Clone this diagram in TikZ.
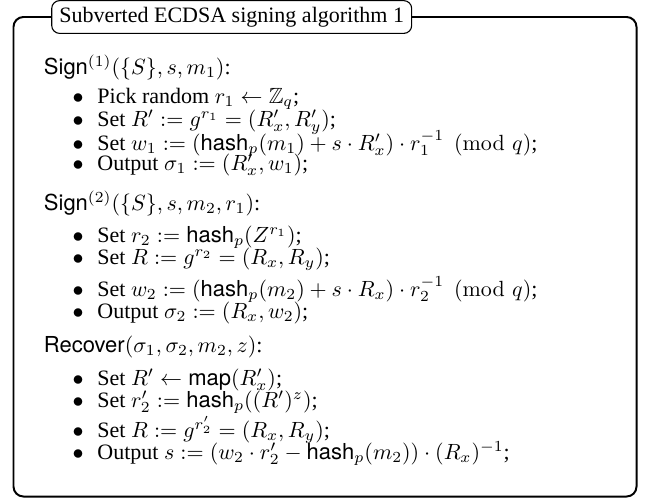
\documentclass[tikz,border=0pt]{standalone}
\usepackage{amsmath,amssymb}
\usepackage[no-math]{fontspec}
\setmainfont{Liberation Serif}
\setsansfont{TeX Gyre Heros}
\begin{document}
\begin{tikzpicture}[x=0.4545pt,y=-0.4545pt,
  frame/.style={draw=black,line width=0.9pt,rounded corners=4.5pt},
  titlebox/.style={draw=black,fill=white,line width=0.5pt,rounded corners=3.6pt,
    minimum width=163.6pt,minimum height=14.9pt,inner sep=0pt},
  line/.style={anchor=base west,inner sep=0pt},
  bul/.style={anchor=base,inner sep=0pt}]
\useasboundingbox (0,0) rectangle (647,499);
\draw[frame] (13.5,17) rectangle (636.5,496.5);
\node[titlebox] (title) at (231.7,17) {Subverted ECDSA signing algorithm 1};
% Sign 1
\node[line] (h1) at (43.5,74) {\textsf{Sign}$^{(1)}(\{S\}, s, m_1)$:};
\node[bul] (b11) at (78,103) {$\bullet$};
\node[line] (l11) at (97,103) {Pick random $r_1 \leftarrow \mathbb{Z}_q$;};
\node[bul] (b12) at (78,126) {$\bullet$};
\node[line] (l12) at (97,126) {Set $R' := g^{r_1} = (R'_x, R'_y)$;};
\node[bul] (b13) at (78,150) {$\bullet$};
\node[line] (l13) at (97,150) {Set $w_1 := (\textsf{hash}_p(m_1) + s\cdot R'_x)\cdot r_1^{-1} \pmod q$;};
\node[bul] (b14) at (78,170) {$\bullet$};
\node[line] (l14) at (97,170) {Output $\sigma_1 := (R'_x, w_1)$;};
% Sign 2
\node[line] (h2) at (43.5,210) {\textsf{Sign}$^{(2)}(\{S\}, s, m_2, r_1)$:};
\node[bul] (b21) at (78,242) {$\bullet$};
\node[line] (l21) at (97,242) {Set $r_2 := \textsf{hash}_p(Z^{r_1})$;};
\node[bul] (b22) at (78,264) {$\bullet$};
\node[line] (l22) at (97,264) {Set $R := g^{r_2} = (R_x, R_y)$;};
\node[bul] (b23) at (78,296) {$\bullet$};
\node[line] (l23) at (97,296) {Set $w_2 := (\textsf{hash}_p(m_2) + s\cdot R_x)\cdot r_2^{-1} \pmod q$;};
\node[bul] (b24) at (78,318) {$\bullet$};
\node[line] (l24) at (97,318) {Output $\sigma_2 := (R_x, w_2)$;};
% Recover
\node[line] (h3) at (43.5,352) {\textsf{Recover}$(\sigma_1, \sigma_2, m_2, z)$:};
\node[bul] (b31) at (78,385) {$\bullet$};
\node[line] (l31) at (97,385) {Set $R' \leftarrow \textsf{map}(R'_x)$;};
\node[bul] (b32) at (78,407) {$\bullet$};
\node[line] (l32) at (97,407) {Set $r'_2 := \textsf{hash}_p((R')^z)$;};
\node[bul] (b33) at (78,437) {$\bullet$};
\node[line] (l33) at (97,437) {Set $R := g^{r'_2} = (R_x, R_y)$;};
\node[bul] (b34) at (78,459) {$\bullet$};
\node[line] (l34) at (97,459) {Output $s := (w_2\cdot r'_2 - \textsf{hash}_p(m_2))\cdot(R_x)^{-1}$;};
\end{tikzpicture}
\end{document}
